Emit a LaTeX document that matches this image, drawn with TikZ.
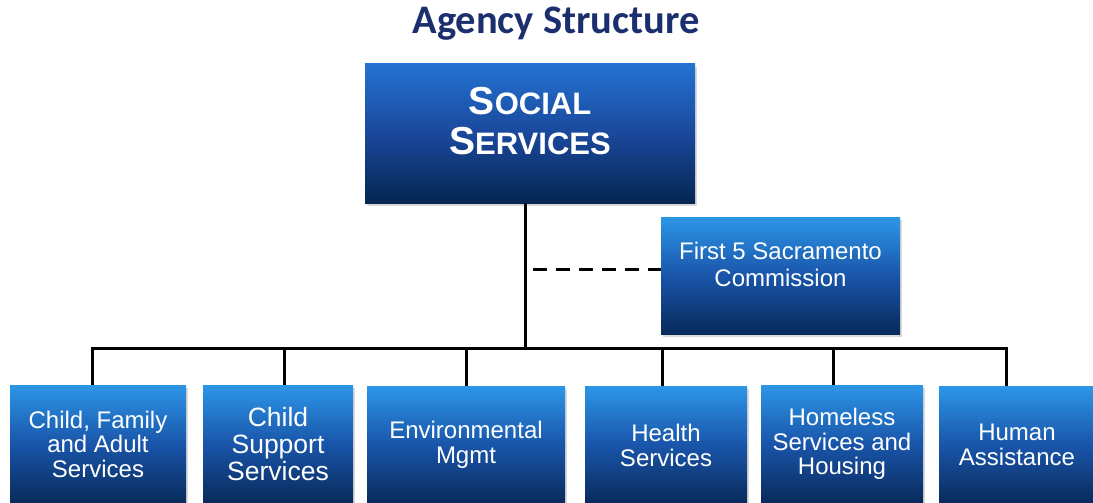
\documentclass[tikz,border=0pt]{standalone}
\usepackage{fontspec}
\setmainfont{Liberation Sans}
\newfontfamily\titlefont{Carlito}
\usetikzlibrary{shadows}
\definecolor{navy}{RGB}{27,47,110}
\definecolor{btop}{RGB}{45,150,230}
\definecolor{bmid}{RGB}{25,85,170}
\definecolor{bbot}{RGB}{8,42,90}
\definecolor{stop}{RGB}{35,115,210}
\definecolor{smid}{RGB}{26,72,155}
\definecolor{sbot}{RGB}{5,38,82}
\tikzset{
  unit/.style={rectangle, inner sep=0pt, text=white, align=center,
    top color=btop, bottom color=bbot, middle color=bmid,
    drop shadow={opacity=0.3, shadow xshift=2pt, shadow yshift=-3pt},
    font=\fontsize{24}{24.5}\selectfont},
  headbox/.style={rectangle, inner sep=0pt, text=white, align=center,
    top color=stop, bottom color=sbot, middle color=smid,
    drop shadow={opacity=0.3, shadow xshift=2pt, shadow yshift=-3pt}},
  link/.style={draw=black, line width=3pt},
  dashlink/.style={draw=black, line width=3pt, dash pattern=on 14pt off 9pt},
}
\begin{document}
\begin{tikzpicture}[x=1pt,y=-1pt]
\useasboundingbox (0,0) rectangle (1093,503);
% title
\node[text=navy, font=\titlefont\bfseries\fontsize{40.5}{42}\selectfont] (title) at (556,24) {Agency Structure};
% head box
\node[headbox, minimum width=330pt, minimum height=139pt, text depth=26pt,
  font=\bfseries\fontsize{39}{40}\selectfont] (ss) at (530,133.5)
  {S{\fontsize{31}{40}\selectfont OCIAL}\\S{\fontsize{31}{40}\selectfont ERVICES}};
% First 5
\node[unit, minimum width=239pt, minimum height=117pt, font=\fontsize{24}{27}\selectfont,
  text depth=22pt] (f5) at (780.5,275.5) {First 5 Sacramento\\Commission};
% bottom boxes
\node[unit, minimum width=176pt, minimum height=118pt] (b1) at (98,444) {Child, Family\\and Adult\\Services};
\node[unit, minimum width=150pt, minimum height=118pt, font=\fontsize{26.5}{27}\selectfont] (b2) at (278,444) {Child\\Support\\Services};
\node[unit, minimum width=198pt, minimum height=118pt, font=\fontsize{24}{25}\selectfont] (b3) at (466,445) {Environmental\\Mgmt};
\node[unit, minimum width=162pt, minimum height=118pt, font=\fontsize{24}{25}\selectfont] (b4) at (666,445) {Health\\Services};
\node[unit, minimum width=162pt, minimum height=118pt] (b5) at (842,444) {Homeless\\Services and\\Housing};
\node[unit, minimum width=156pt, minimum height=118pt, font=\fontsize{24}{25}\selectfont] (b6) at (1017,445) {Human\\Assistance};
% connectors
\coordinate (j) at (525,348);
\coordinate (d1) at (92,348);
\coordinate (d2) at (284,348);
\coordinate (d3) at (466,348);
\coordinate (d4) at (662,348);
\coordinate (d5) at (833,348);
\coordinate (d6) at (1006,348);
\coordinate (ds) at (533,269);
\draw[link] (ss.south -| j) -- (j);
\draw[link, line cap=rect] (d1) -- (d6);
\draw[link] (d1) -- (d1 |- b1.north);
\draw[link] (d2) -- (d2 |- b2.north);
\draw[link] (d3) -- (d3 |- b3.north);
\draw[link] (d4) -- (d4 |- b4.north);
\draw[link] (d5) -- (d5 |- b5.north);
\draw[link] (d6) -- (d6 |- b6.north);
\draw[dashlink] (ds) -- (ds -| f5.west);
\end{tikzpicture}
\end{document}
